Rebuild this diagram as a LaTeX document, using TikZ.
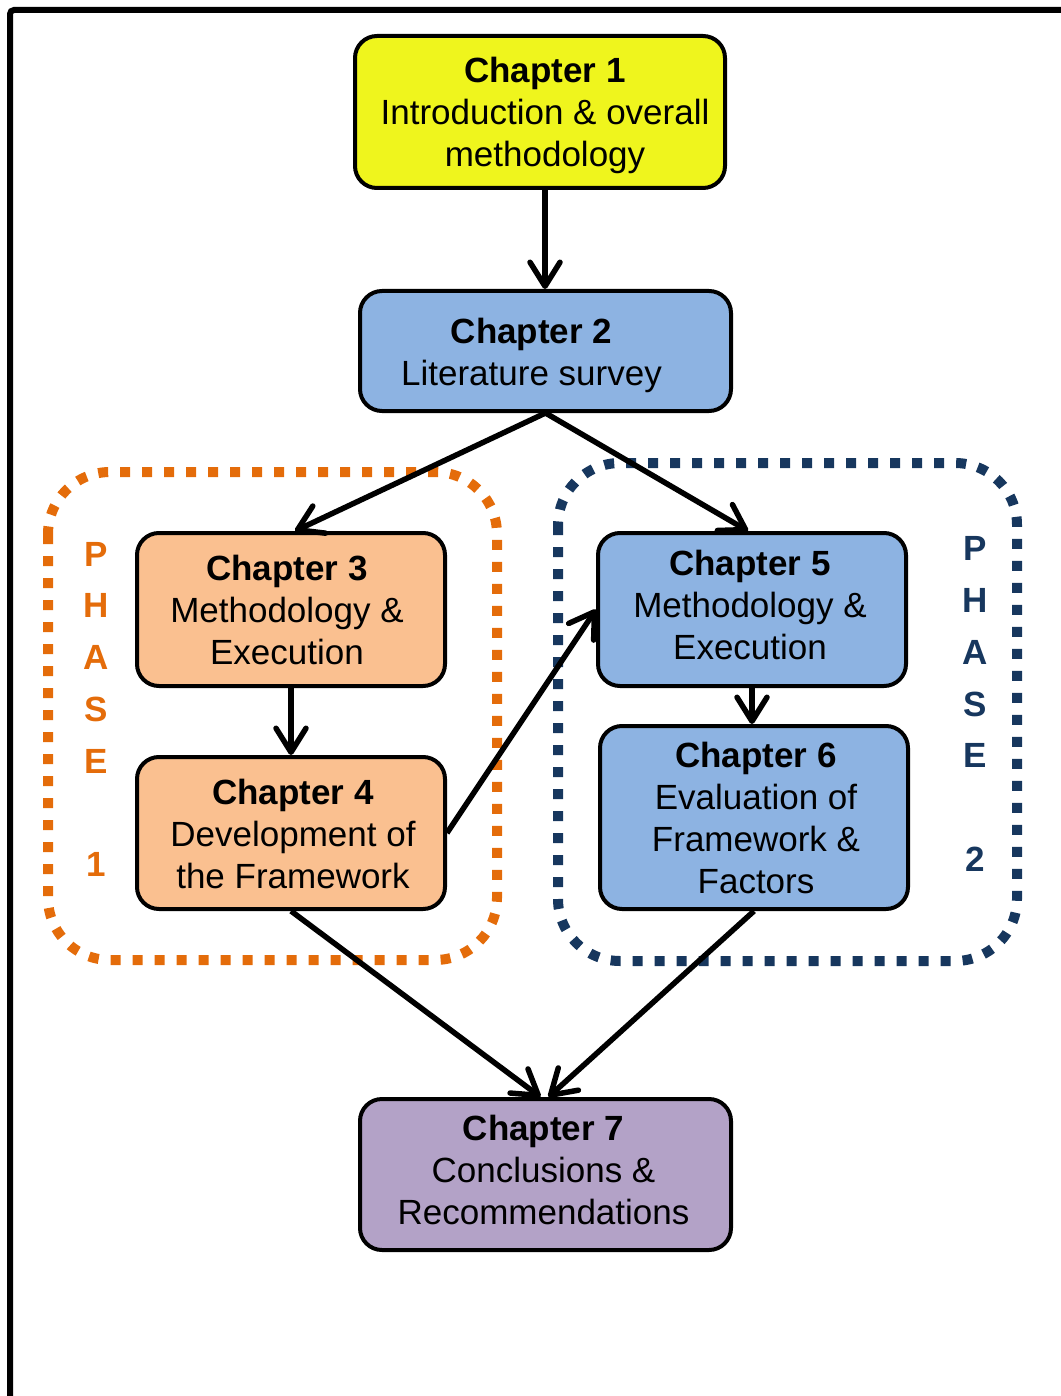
\documentclass[tikz,border=0pt]{standalone}
\usepackage{fontspec}
\setmainfont{Liberation Sans}
\usetikzlibrary{arrows.meta,calc}
\definecolor{c1fill}{HTML}{EFF51D}
\definecolor{bluefill}{HTML}{8DB3E2}
\definecolor{orangefill}{HTML}{FAC090}
\definecolor{purplefill}{HTML}{B3A2C7}
\definecolor{phaseorange}{HTML}{E46C0A}
\definecolor{phasenavy}{HTML}{17375E}
\tikzset{
  chap/.style={draw=black, line width=4pt, rounded corners=22pt, inner sep=0pt},
  chaptext/.style={align=center, inner sep=0pt, font=\fontsize{35}{42}\selectfont},
  link/.style={line width=5.5pt, -{Straight Barb[round,length=24pt,width=30pt]}},
  phasebox/.style={line width=10pt, dash pattern=on 10pt off 12pt, rounded corners=62pt},
  phasetext/.style={align=center, inner sep=0pt, font=\bfseries\fontsize{35}{51.8}\selectfont},
}
\begin{document}
\begin{tikzpicture}[x=1pt,y=-1pt]
  \useasboundingbox (0,0) rectangle (1060,1396);
  % outer frame
  \draw[line width=6pt, rounded corners=4pt] (10,1400) -- (10,10) -- (1064,10);

  % phase groupings
  \draw[phasebox, draw=phaseorange] (48,472) rectangle (497,960);
  \draw[phasebox, draw=phasenavy] (558,463) rectangle (1017,961);
  \node[phasetext, text=phaseorange] (ph1) at (96,709.5) {P\\H\\A\\S\\E\\\mbox{}\\1};
  \node[phasetext, text=phasenavy] (ph2) at (975,704) {P\\H\\A\\S\\E\\\mbox{}\\2};

  % chapter boxes
  \node[chap, fill=c1fill, minimum width=370pt, minimum height=152pt] (c1) at (540,112) {};
  \node[chap, fill=bluefill, minimum width=371pt, minimum height=120pt] (c2) at (545.5,351) {};
  \node[chap, fill=orangefill, minimum width=308pt, minimum height=153pt] (c3) at (291,609.5) {};
  \node[chap, fill=orangefill, minimum width=308pt, minimum height=152pt] (c4) at (291,833) {};
  \node[chap, fill=bluefill, minimum width=308pt, minimum height=153pt] (c5) at (752,609.5) {};
  \node[chap, fill=bluefill, minimum width=308pt, minimum height=183pt] (c6) at (754,817.5) {};
  \node[chap, fill=purplefill, minimum width=371pt, minimum height=151pt] (c7) at (545.5,1174.5) {};

  % chapter titles
  \node[chaptext] (t1) at ($(c1)+(5,3)$) {\textbf{Chapter 1}\\Introduction \& overall\\methodology};
  \node[chaptext] (t2) at ($(c2)+(-14,4)$) {\textbf{Chapter 2}\\Literature survey};
  \node[chaptext] (t3) at ($(c3)+(-4,0)$) {\textbf{Chapter 3}\\Methodology \&\\Execution};
  \node[chaptext] (t4) at ($(c4)+(2,1)$) {\textbf{Chapter 4}\\Development of\\the Framework};
  \node[chaptext] (t5) at ($(c5)+(-2,-5)$) {\textbf{Chapter 5}\\Methodology \&\\Execution};
  \node[chaptext] (t6) at ($(c6)+(2,0)$) {\textbf{Chapter 6}\\Evaluation of\\Framework \&\\Factors};
  \node[chaptext] (t7) at ($(c7)+(-2,-5)$) {\textbf{Chapter 7}\\Conclusions \&\\Recommendations};

  % connections
  \draw[link] ($(c1.south)+(5,0)$) -- ($(c2.north)+(-0.5,0)$);
  \draw[link] (c2.south) -- ($(c3.north)+(4,0)$);
  \draw[link] (c2.south) -- ($(c5.north)+(-4,0)$);
  \draw[link] (c3.south) -- (c4.north);
  \draw[link] (c4.east) -- (c5.west);
  \draw[link] (c5.south) -- ($(c6.north)+(-2,0)$);
  \draw[link] (c4.south) -- ($(c7.north)+(-5,0)$);
  \draw[link] (c6.south) -- ($(c7.north)+(3,0)$);
\end{tikzpicture}
\end{document}
